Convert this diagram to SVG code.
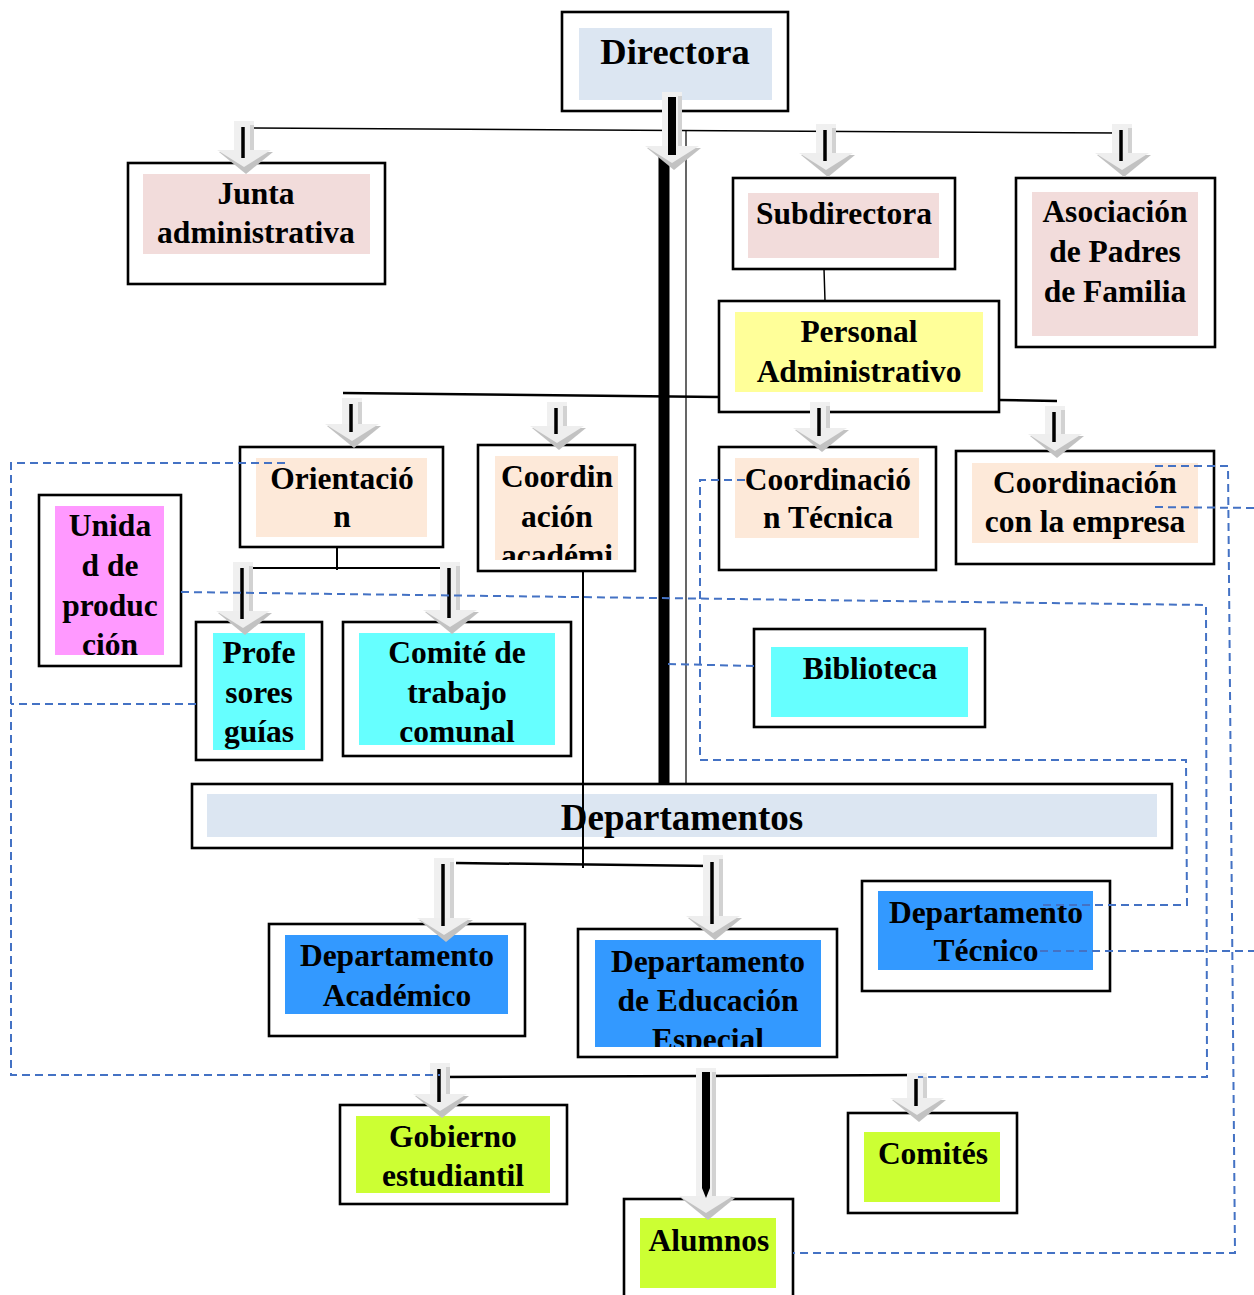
<svg xmlns="http://www.w3.org/2000/svg" xmlns:xlink="http://www.w3.org/1999/xlink" width="1254" height="1295" viewBox="0 0 1254 1295">
<style>
.ob{fill:#fff;stroke:#000;stroke-width:2.6}
.t{font-family:"Liberation Serif","Times New Roman",serif;font-weight:bold;font-size:31.5px;fill:#000;text-anchor:middle}
.c1{fill:#dce6f2}.c2{fill:#f2dcdb}.c3{fill:#ffff99}.c4{fill:#fde9d9}.c5{fill:#ff99ff}.c6{fill:#66ffff}.c7{fill:#3399ff}.c8{fill:#ccff33}
.ln{stroke:#000;fill:none}
.dl{stroke:#4472c4;stroke-width:2;stroke-dasharray:8 5;fill:none}
.sh{fill:#f0f0f0}.ss{fill:#d2d2d2}
.bl{stroke:#000;stroke-width:3.5}
</style>
<defs>
<g id="ahead">
<polygon points="-25,-20 29,-20 2,2" fill="#c2c2c2"/>
<polygon points="-27,-22 27,-22 0,-5" fill="#eeeeee"/>
</g>
<clipPath id="cpA"><rect x="495" y="456" width="123" height="104"/></clipPath>
<clipPath id="cpE"><rect x="595" y="940" width="226" height="107"/></clipPath>
</defs>
<rect width="1254" height="1295" fill="#fff"/>

<g id="directora"><rect class="ob" x="562" y="12" width="226" height="99"/><rect class="c1" x="579" y="28" width="193" height="72"/><text class="t" x="675" y="64" style="font-size:36.5px">Directora</text></g>
<g id="junta"><rect class="ob" x="128" y="163" width="257" height="121"/><rect class="c2" x="143" y="174" width="227" height="80"/><text class="t" x="256" y="204">Junta</text><text class="t" x="256" y="243">administrativa</text></g>
<g id="subdirectora"><rect class="ob" x="733" y="178" width="222" height="91"/><rect class="c2" x="748" y="193" width="191" height="65"/><text class="t" x="844" y="224">Subdirectora</text></g>
<g id="asociacion"><rect class="ob" x="1016" y="178" width="199" height="169"/><rect class="c2" x="1032" y="192" width="166" height="144"/><text class="t" x="1115" y="222">Asociación</text><text class="t" x="1115" y="262">de Padres</text><text class="t" x="1115" y="302">de Familia</text></g>
<g id="personal"><rect class="ob" x="719" y="301" width="280" height="111"/><rect class="c3" x="735" y="312" width="248" height="80"/><text class="t" x="859" y="342">Personal</text><text class="t" x="859" y="382">Administrativo</text></g>
<g id="orientacion"><rect class="ob" x="240" y="447" width="203" height="100"/><rect class="c4" x="256" y="458" width="171" height="79"/><text class="t" x="342" y="489">Orientació</text><text class="t" x="342" y="527">n</text></g>
<g id="coord-academica"><rect class="ob" x="478" y="445" width="157" height="126"/><rect class="c4" x="495" y="456" width="123" height="104"/><g clip-path="url(#cpA)"><text class="t" x="557" y="487">Coordin</text><text class="t" x="557" y="527">ación</text><text class="t" x="557" y="566">académi</text></g></g>
<g id="coord-tecnica"><rect class="ob" x="719" y="447" width="217" height="123"/><rect class="c4" x="735" y="458" width="184" height="80"/><text class="t" x="828" y="490">Coordinació</text><text class="t" x="828" y="528">n Técnica</text></g>
<g id="coord-empresa"><rect class="ob" x="956" y="451" width="258" height="113"/><rect class="c4" x="972" y="463" width="226" height="80"/><text class="t" x="1085" y="493">Coordinación</text><text class="t" x="1085" y="532">con la empresa</text></g>
<g id="unidad"><rect class="ob" x="39" y="495" width="142" height="171"/><rect class="c5" x="55" y="506" width="109" height="149"/><text class="t" x="110" y="536">Unida</text><text class="t" x="110" y="576">d de</text><text class="t" x="110" y="616">produc</text><text class="t" x="110" y="655">ción</text></g>
<g id="profesores"><rect class="ob" x="196" y="622" width="126" height="138"/><rect class="c6" x="213" y="633" width="92" height="117"/><text class="t" x="259" y="663">Profe</text><text class="t" x="259" y="703">sores</text><text class="t" x="259" y="742">guías</text></g>
<g id="comite"><rect class="ob" x="343" y="622" width="228" height="134"/><rect class="c6" x="359" y="633" width="196" height="112"/><text class="t" x="457" y="663">Comité de</text><text class="t" x="457" y="703">trabajo</text><text class="t" x="457" y="742">comunal</text></g>
<g id="biblioteca"><rect class="ob" x="754" y="629" width="231" height="98"/><rect class="c6" x="771" y="647" width="197" height="70"/><text class="t" x="870" y="679">Biblioteca</text></g>
<g id="departamentos"><rect class="ob" x="192" y="784" width="980" height="64"/><rect class="c1" x="207" y="794" width="950" height="43"/><text class="t" x="682" y="830" style="font-size:37px">Departamentos</text></g>
<g id="dep-academico"><rect class="ob" x="269" y="924" width="256" height="112"/><rect class="c7" x="285" y="935" width="223" height="79"/><text class="t" x="397" y="966">Departamento</text><text class="t" x="397" y="1006">Académico</text></g>
<g id="dep-especial"><rect class="ob" x="578" y="929" width="259" height="128"/><rect class="c7" x="595" y="940" width="226" height="107"/><g clip-path="url(#cpE)"><text class="t" x="708" y="972">Departamento</text><text class="t" x="708" y="1011">de Educación</text><text class="t" x="708" y="1050">Especial</text></g></g>
<g id="dep-tecnico"><rect class="ob" x="862" y="881" width="248" height="110"/><rect class="c7" x="878" y="891" width="215" height="79"/><text class="t" x="986" y="923">Departamento</text><text class="t" x="986" y="961">Técnico</text></g>
<g id="gobierno"><rect class="ob" x="340" y="1105" width="227" height="99"/><rect class="c8" x="356" y="1116" width="194" height="77"/><text class="t" x="453" y="1147">Gobierno</text><text class="t" x="453" y="1186">estudiantil</text></g>
<g id="comites"><rect class="ob" x="848" y="1113" width="169" height="100"/><rect class="c8" x="864" y="1132" width="136" height="70"/><text class="t" x="933" y="1164">Comités</text></g>
<g id="alumnos"><rect class="ob" x="624" y="1199" width="169" height="110"/><rect class="c8" x="640" y="1218" width="136" height="70"/><text class="t" x="709" y="1251">Alumnos</text></g>

<g id="connectors">
<line class="ln" x1="250" y1="128" x2="1120" y2="133" stroke-width="1.5"/>
<line class="ln" x1="664" y1="150" x2="664" y2="784" stroke-width="11"/>
<line class="ln" x1="686" y1="130" x2="686" y2="784" stroke-width="1.2"/>
<line class="ln" x1="824" y1="269" x2="825" y2="301" stroke-width="1.5"/>
<line class="ln" x1="343" y1="393" x2="719" y2="397" stroke-width="2.5"/>
<line class="ln" x1="999" y1="400" x2="1057" y2="401" stroke-width="2.5"/>
<line class="ln" x1="337" y1="547" x2="337" y2="570" stroke-width="2"/>
<line class="ln" x1="243" y1="568" x2="450" y2="568" stroke-width="2"/>
<line class="ln" x1="583" y1="571" x2="583" y2="868" stroke-width="2"/>
<line class="ln" x1="456" y1="863" x2="712" y2="866" stroke-width="2.5"/>
<line class="ln" x1="437" y1="1077" x2="918" y2="1075" stroke-width="2.5"/>

<g transform="translate(672,0)"><rect class="sh" x="-10" y="92" width="20" height="56"/><rect class="ss" x="6" y="96" width="4" height="52"/><use xlink:href="#ahead" x="0" y="168"/><line class="ln" x1="0" y1="97" x2="0" y2="155" stroke-width="8"/></g>
<g transform="translate(244,0)"><rect class="sh" x="-10" y="121" width="20" height="30"/><rect class="ss" x="6" y="125" width="4" height="26"/><use xlink:href="#ahead" x="0" y="172"/><line class="bl" x1="-1" y1="127" x2="-1" y2="158"/></g>
<g transform="translate(826,0)"><rect class="sh" x="-10" y="124" width="20" height="30"/><rect class="ss" x="6" y="128" width="4" height="26"/><use xlink:href="#ahead" x="0" y="175"/><line class="bl" x1="-1" y1="130" x2="-1" y2="161"/></g>
<g transform="translate(1122,0)"><rect class="sh" x="-10" y="124" width="20" height="30"/><rect class="ss" x="6" y="128" width="4" height="26"/><use xlink:href="#ahead" x="0" y="175"/><line class="bl" x1="-1" y1="130" x2="-1" y2="161"/></g>
<g transform="translate(352,0)"><rect class="sh" x="-10" y="398" width="20" height="27"/><rect class="ss" x="6" y="402" width="4" height="23"/><use xlink:href="#ahead" x="0" y="446"/><line class="bl" x1="-1" y1="404" x2="-1" y2="432"/></g>
<g transform="translate(557,0)"><rect class="sh" x="-10" y="402" width="20" height="25"/><rect class="ss" x="6" y="406" width="4" height="21"/><use xlink:href="#ahead" x="0" y="448"/><line class="bl" x1="-1" y1="408" x2="-1" y2="434"/></g>
<g transform="translate(820,0)"><rect class="sh" x="-10" y="402" width="20" height="27"/><rect class="ss" x="6" y="406" width="4" height="23"/><use xlink:href="#ahead" x="0" y="450"/><line class="bl" x1="-1" y1="408" x2="-1" y2="436"/></g>
<g transform="translate(1055,0)"><rect class="sh" x="-10" y="406" width="20" height="29"/><rect class="ss" x="6" y="410" width="4" height="25"/><use xlink:href="#ahead" x="0" y="456"/><line class="bl" x1="-1" y1="412" x2="-1" y2="442"/></g>
<g transform="translate(243,0)"><rect class="sh" x="-10" y="562" width="20" height="50"/><rect class="ss" x="6" y="566" width="4" height="46"/><use xlink:href="#ahead" x="0" y="633"/><line class="bl" x1="-1" y1="568" x2="-1" y2="619"/></g>
<g transform="translate(450,0)"><rect class="sh" x="-10" y="562" width="20" height="49"/><rect class="ss" x="6" y="566" width="4" height="45"/><use xlink:href="#ahead" x="0" y="632"/><line class="bl" x1="-1" y1="568" x2="-1" y2="618"/></g>
<g transform="translate(444,0)"><rect class="sh" x="-10" y="858" width="20" height="61"/><rect class="ss" x="6" y="862" width="4" height="57"/><use xlink:href="#ahead" x="0" y="940"/><line class="bl" x1="-1" y1="864" x2="-1" y2="926"/></g>
<g transform="translate(713,0)"><rect class="sh" x="-10" y="855" width="20" height="62"/><rect class="ss" x="6" y="859" width="4" height="58"/><use xlink:href="#ahead" x="0" y="938"/><line class="bl" x1="-1" y1="862" x2="-1" y2="924"/></g>
<g transform="translate(440,0)"><rect class="sh" x="-10" y="1063" width="20" height="32"/><rect class="ss" x="6" y="1067" width="4" height="28"/><use xlink:href="#ahead" x="0" y="1116"/><line class="bl" x1="-1" y1="1069" x2="-1" y2="1102"/></g>
<g transform="translate(706,0)"><rect class="sh" x="-10" y="1068" width="20" height="129"/><rect class="ss" x="6" y="1072" width="4" height="125"/><use xlink:href="#ahead" x="0" y="1218"/><polygon points="-4,1072 4,1072 4,1188 0,1198 -4,1188" fill="#000"/></g>
<g transform="translate(917,0)"><rect class="sh" x="-10" y="1073" width="20" height="26"/><rect class="ss" x="6" y="1077" width="4" height="22"/><use xlink:href="#ahead" x="0" y="1120"/><line class="bl" x1="-1" y1="1079" x2="-1" y2="1106" stroke-width="2"/></g>

<polyline class="dl" points="285,463 11,463 11,1075 440,1075"/>
<polyline class="dl" points="196,704 11,704"/>
<polyline class="dl" points="181,592 1206,605 1207,1077 918,1077"/>
<polyline class="dl" points="668,664 754,666"/>
<polyline class="dl" points="745,480 700,480 700,760 1186,760 1187,905 1040,905"/>
<polyline class="dl" points="1155,466 1228,466 1235,1253 793,1253"/>
<polyline class="dl" points="1155,507 1254,508"/>
<polyline class="dl" points="1040,951 1254,951"/>
</g>
</svg>
